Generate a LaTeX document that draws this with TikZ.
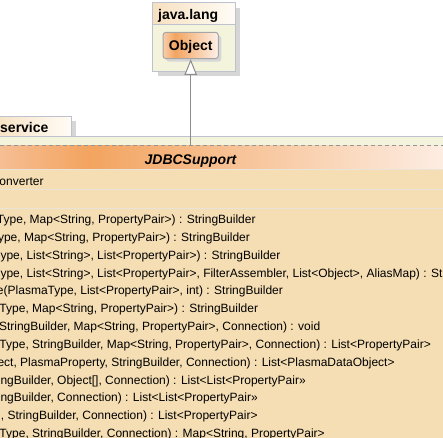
\documentclass[tikz,border=0pt]{standalone}
\usepackage{fontspec}
\setmainfont{Liberation Sans}
\usepackage{tikz}
\usetikzlibrary{arrows.meta,calc,positioning,shadows}

\definecolor{pkgbody}{RGB}{244,244,220}
\definecolor{pkgline}{RGB}{190,194,206}
\definecolor{tabpeach}{RGB}{247,224,192}
\definecolor{tabwhite}{RGB}{255,252,246}
\definecolor{shadowgray}{RGB}{214,214,214}
\definecolor{clsbody}{RGB}{245,222,179}
\definecolor{clsline}{RGB}{234,228,216}
\definecolor{hdrleft}{RGB}{246,190,148}
\definecolor{hdrorange}{RGB}{243,164,96}
\definecolor{hdrright}{RGB}{253,237,226}
\definecolor{objleft}{RGB}{248,206,172}
\definecolor{objright}{RGB}{253,240,232}
\definecolor{objline}{RGB}{165,165,165}
\definecolor{dashgray}{RGB}{150,150,150}
\definecolor{linkgray}{RGB}{140,140,140}

\pgfdeclarehorizontalshading{hdrshade}{100bp}{color(0bp)=(hdrleft); color(25bp)=(hdrleft); color(35bp)=(hdrorange); color(75bp)=(hdrright); color(100bp)=(hdrright)}
\pgfdeclarehorizontalshading{objshade}{100bp}{color(0bp)=(objleft); color(25bp)=(objleft); color(36bp)=(hdrorange); color(75bp)=(objright); color(100bp)=(objright)}

\begin{document}
\begin{tikzpicture}[x=0.75pt,y=-0.75pt,line width=0.75pt,
  every node/.style={inner sep=0pt},
  pkgname/.style={font=\fontsize{10.5pt}{12pt}\selectfont\bfseries,anchor=base west},
  member/.style={font=\fontsize{9pt}{11pt}\selectfont,anchor=base west},
  objectbox/.style={draw=objline,rounded corners=2.25pt,shading=objshade,
    minimum width=41.5pt,minimum height=19.8pt,text depth=0pt,
    font=\fontsize{10.5pt}{12pt}\selectfont\bfseries,
    general shadow={fill=shadowgray,shadow xshift=2.25pt,shadow yshift=-2.25pt}},
  generalize/.style={draw=linkgray,-{Triangle[width=9.3pt,length=11.7pt,fill=white]}}]
\pgfmathsetmacro{\rowgap}{17.85}
\useasboundingbox (0,0) rectangle (443,438);
\clip (0,0) rectangle (443,438);
\fill[white] (0,0) rectangle (443,438);

% package java.lang
\fill[shadowgray] (157.7,7.7) rectangle (240.3,76.3);
\fill[pkgbody] (152.7,2.7) rectangle (235.3,71.3);
\shade[left color=tabpeach,right color=tabwhite] (152.7,2.7) rectangle (235.3,24.3);
\draw[pkgline] (152.7,2.7) rectangle (235.3,71.3) (152.7,24.3) -- (235.3,24.3);
\node[pkgname] (langname) at (157.7,19.4) {java.lang};
\node[objectbox] (object) at (190.7,45.5) {Object};

% package service
\fill[shadowgray] (0,121.3) rectangle (76.3,137);
\shade[left color=tabpeach,right color=tabwhite] (-10,116.3) rectangle (71.3,137);
\draw[pkgline] (-10,116.3) -- (71.3,116.3) -- (71.3,137);
\node[pkgname] (servicename) at (-0.3,132.3) {service};
\fill[pkgbody] (-5,137) rectangle (448,443);

% class JDBCSupport
\shade[shading=hdrshade] (0,146) rectangle (443,170);
\fill[clsbody] (0,170) rectangle (443,443);
\draw[clsline] (0,170) -- (443,170) (0,190) -- (443,190) (0,208.5) -- (443,208.5);
\draw[dashgray,dash pattern=on 3pt off 2.25pt] (0,146) -- (443,146);
\draw[pkgline] (0,137) -- (443,137);
\node[font=\fontsize{10.5pt}{12pt}\selectfont\bfseries\itshape,anchor=base] (clsname) at (190.5,164.3) {JDBCSupport};
\node[member] (attr) at (-1,185.5) {onverter};
\foreach \dx/\txt [count=\i] in {
  -3.5/{Type, Map<String, PropertyPair>) : StringBuilder},
  -2.5/{ype, Map<String, PropertyPair>) : StringBuilder},
  0/{ype, List<String>, List<PropertyPair>) : StringBuilder},
  0/{ype, List<String>, List<PropertyPair>, FilterAssembler, List<Object>, AliasMap) : StringBuilder},
  -3.5/{e(PlasmaType, List<PropertyPair>, int) : StringBuilder},
  -1/{Type, Map<String, PropertyPair>) : StringBuilder},
  -1.5/{StringBuilder, Map<String, PropertyPair>, Connection) : void},
  -1/{Type, StringBuilder, Map<String, PropertyPair>, Connection) : List<PropertyPair>},
  -3/{ect, PlasmaProperty, StringBuilder, Connection) : List<PlasmaDataObject>},
  0/{ngBuilder, Object[], Connection) : List<List<PropertyPair>>},
  0/{ngBuilder, Connection) : List<List<PropertyPair>>},
  0.5/{, StringBuilder, Connection) : List<PropertyPair>},
  -1/{Type, StringBuilder, Connection) : Map<String, PropertyPair>}}
  \node[member] (op\i) at (\dx,223.5+\rowgap*\i-\rowgap) {\txt};

% generalization
\coordinate (hdrtop) at (object.south |- 0,146);
\draw[generalize] (hdrtop) -- (object);
\end{tikzpicture}
\end{document}
